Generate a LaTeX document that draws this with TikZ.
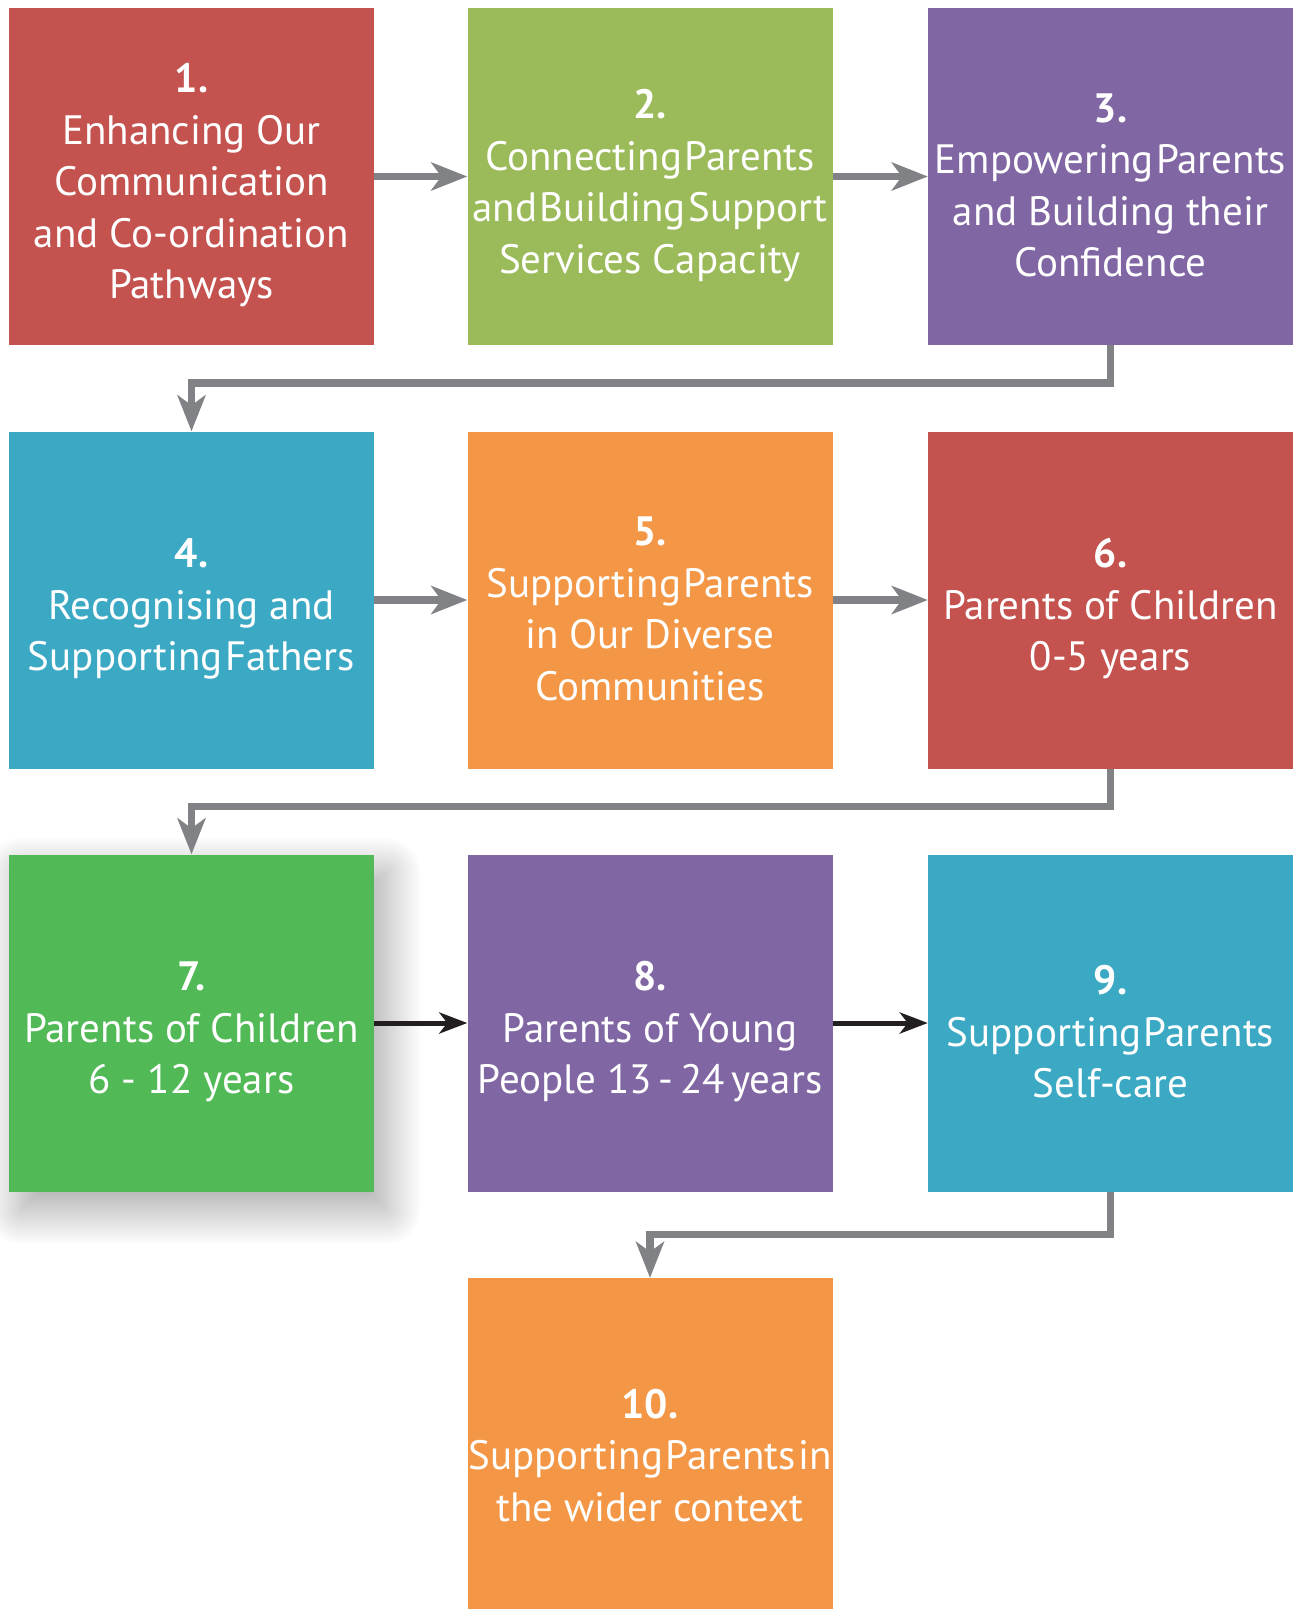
\documentclass[tikz,border=0pt]{standalone}
\usepackage{fontspec}
\setmainfont{PT Sans}
\usetikzlibrary{arrows.meta,shadows.blur}

\definecolor{cred}{HTML}{C4524E}
\definecolor{clime}{HTML}{9BBA59}
\definecolor{cviolet}{HTML}{8066A3}
\definecolor{cteal}{HTML}{3BA9C4}
\definecolor{corange}{HTML}{F39746}
\definecolor{cgreen}{HTML}{51B955}
\definecolor{cgray}{HTML}{808285}
\definecolor{cblack}{HTML}{231F20}

% spazio stretto
\newcommand{\tsp}{\hspace{0.06em}}
\newcommand{\msp}{\hspace{0.16em}}

\begin{document}
\begin{tikzpicture}[x=1pt, y=-1pt,
  box/.style={rectangle, minimum width=365pt, minimum height=337pt, inner sep=0pt},
  txt/.style={text=white, align=center, inner sep=0pt, yshift=-9pt,
    font=\fontsize{41}{51.5}\selectfont},
  garrow/.style={draw=cgray, line width=7.5pt, -{Stealth[length=36pt,width=28pt,inset=10pt]}},
  karrow/.style={draw=cblack, line width=5pt, -{Stealth[length=28pt,width=21pt,inset=8pt]}}]

\useasboundingbox (0,0) rectangle (1293,1609);

% Prima riga
\node[box, fill=cred, label={[txt]center:{{\bfseries 1.}\\Enhancing Our\\Communication\\and Co-ordination\\Pathways}}] (n1) at (191.5,176.5) {};
\node[box, fill=clime, label={[txt]center:{{\bfseries 2.}\\Connecting\tsp Parents\\and\tsp Building\tsp Support\\Services Capacity}}] (n2) at (650,176.5) {};
\node[box, fill=cviolet, label={[txt]center:{{\bfseries 3.}\\Empowering\tsp Parents\\and Building their\\Confidence}}] (n3) at (1110.5,176.5) {};

% Seconda riga
\node[box, fill=cteal, label={[txt]center:{{\bfseries 4.}\\Recognising and\\Supporting\tsp Fathers}}] (n4) at (191.5,600) {};
\node[box, fill=corange, label={[txt]center:{{\bfseries 5.}\\Supporting\tsp Parents\\in Our Diverse\\Communities}}] (n5) at (650,600) {};
\node[box, fill=cred, label={[txt]center:{{\bfseries 6.}\\Parents of Children\\0-5 years}}] (n6) at (1110.5,600) {};

% Terza riga
\node[box, fill=cgreen, blur shadow={shadow xshift=12pt, shadow yshift=-18pt,
  shadow blur radius=36pt, shadow opacity=36, shadow blur steps=60},
  label={[txt]center:{{\bfseries 7.}\\Parents of Children\\6 - 12 years}}] (n7) at (191.5,1023) {};
\node[box, fill=cviolet, label={[txt]center:{{\bfseries 8.}\\Parents of Young\\People 13\msp-\msp 24\msp years}}] (n8) at (650,1023) {};
\node[box, fill=cteal, label={[txt]center:{{\bfseries 9.}\\Supporting\tsp Parents\\Self-care}}] (n9) at (1110.5,1023) {};

% Ultima
\node[box, fill=corange, label={[txt]center:{{\bfseries 10.}\\Supporting\tsp Parents\tsp in\\the wider context}}] (n10) at (650,1446.5) {};

% Frecce
\draw[garrow] (n1) -- (n2);
\draw[garrow] (n2) -- (n3);
\draw[garrow] (n3.south) -- ++(0,38) -| (n4.north);
\draw[garrow] (n4) -- (n5);
\draw[garrow] (n5) -- (n6);
\draw[garrow] (n6.south) -- ++(0,38) -| (n7.north);
\draw[karrow] (n7) -- (n8);
\draw[karrow] (n8) -- (n9);
\draw[garrow] (n9.south) -- ++(0,43) -| (n10.north);

\end{tikzpicture}
\end{document}
